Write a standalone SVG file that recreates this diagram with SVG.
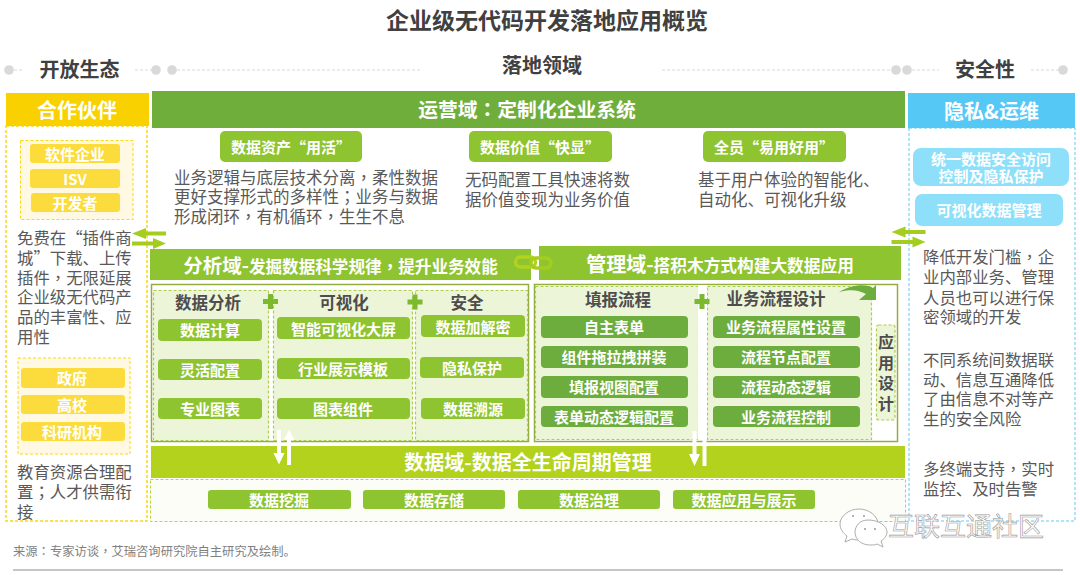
<svg xmlns="http://www.w3.org/2000/svg" width="1080" height="575" viewBox="0 0 1080 575">
<style>
text{font-family:"Noto Sans CJK SC","Noto Sans",sans-serif}
.c{text-anchor:middle}
.b{font-weight:700}
.w{fill:#fff}
.q{font-family:"Noto Sans CJK TC","Noto Sans",sans-serif}
.h{font-size:20px;font-weight:700;fill:#404040}
.s{font-size:16.5px;font-weight:700;fill:#4d4d4d;text-anchor:middle}
.body{font-size:16.4px;fill:#595959}
.body2{font-size:16.5px;fill:#595959}
.p{font-size:15px;font-weight:700;fill:#fff;text-anchor:middle}
.dot{fill:#d9d9d9}
.dl{stroke:#d9d9d9;stroke-width:1;stroke-dasharray:3 2;fill:none}
.yp{fill:#fcdc3c}
.g1{fill:#8fc431}
.g2{fill:#6dad3e}
.sub{fill:#edf5d8;stroke:#a9cf4c;stroke-width:1.2;stroke-dasharray:3 2}
.box{fill:#fff;stroke:#93ad3f;stroke-width:1.5}
.pl{fill:#7cb92f}
.ar{fill:#a4cd1f}
.ha{fill:#fff}
</style>
<defs>
<g id="swap"><path class="ar" d="M0 5.500 14 0V3.500H34V7.500H14V11Z"/><path class="ar" d="M34 15.500 21 10V13.500H0V17.500H21V21Z"/></g>
<path id="plus" class="pl" d="M-2.500-7.500H2.500V-2.500H7.500V2.500H2.500V7.500H-2.500V2.500H-7.500V-2.500H-2.500Z"/>
</defs>
<g id="title"><text class="c b" x="547" y="29" font-size="23" fill="#404040">企业级无代码开发落地应用概览</text></g>
<g id="section-headers">
<circle class="dot" cx="9" cy="70" r="4.800"/><path class="dl" d="M14 70H24M135 70H156"/><circle class="dot" cx="156" cy="70" r="4.800"/><circle class="dot" cx="172" cy="70" r="4.800"/>
<path class="dl" d="M172 70H421M662 70H896"/><circle class="dot" cx="896" cy="70" r="4.800"/><circle class="dot" cx="907" cy="70" r="4.800"/>
<path class="dl" d="M907 70H939M1031 70H1063"/><circle class="dot" cx="1063" cy="70" r="4.800"/>
<text class="h c" x="79.500" y="77">开放生态</text><text class="h c" x="542" y="73">落地领域</text><text class="h c" x="985" y="77">安全性</text>
</g>
<g id="partners">
<rect x="6" y="126" width="141" height="395" fill="#fff" stroke="#fbd90f" stroke-width="1.500" stroke-dasharray="3 2"/>
<rect x="6" y="93" width="143" height="33" fill="#f9d100"/>
<text class="c b w" x="77" y="118" font-size="20">合作伙伴</text>
<rect x="20.500" y="140.500" width="112.500" height="79" fill="#fff8e3" stroke="#fbd90f" stroke-dasharray="3 2"/>
<rect class="yp" x="30" y="144" width="90" height="19" rx="3"/><rect class="yp" x="30" y="169" width="90" height="19" rx="3"/><rect class="yp" x="31" y="193" width="89" height="19" rx="3"/>
<text class="p" x="75" y="160">软件企业</text><text class="p" x="75" y="185">ISV</text><text class="p" x="75" y="209">开发者</text>
<text class="body"><tspan x="17" y="244">免费在“插件商</tspan><tspan x="17" y="264">城”下载、上传</tspan><tspan x="17" y="284">插件<tspan class="q">，</tspan>无限延展</tspan><tspan x="17" y="303">企业级无代码产</tspan><tspan x="17" y="323">品的丰富性、应</tspan><tspan x="17" y="343">用性</tspan></text>
<rect x="18" y="358" width="112" height="96" fill="#fff8e3" stroke="#fbd90f" stroke-dasharray="3 2"/>
<rect class="yp" x="21" y="368" width="104" height="20" rx="3"/><rect class="yp" x="21" y="395" width="104" height="19" rx="3"/><rect class="yp" x="21" y="422" width="104" height="19" rx="3"/>
<text class="p" x="72" y="384">政府</text><text class="p" x="72" y="411">高校</text><text class="p" x="72" y="438">科研机构</text>
<text class="body"><tspan x="17" y="478">教育资源合理配</tspan><tspan x="17" y="498">置<tspan class="q">；</tspan>人才供需衔</tspan><tspan x="17" y="518">接</tspan></text>
</g>
<g id="operations">
<rect x="152" y="91" width="753" height="37" fill="#70ae3c"/>
<text class="c b w" x="527" y="117" font-size="19.800">运营域<tspan class="q">：</tspan>定制化企业系统</text>
<rect class="g1" x="220" y="131" width="142" height="31" rx="5"/><rect class="g1" x="469" y="131" width="143" height="31" rx="5"/><rect class="g1" x="703" y="131" width="143" height="31" rx="5"/>
<text class="p" x="291" y="153">数据资产“用活”</text><text class="p" x="540" y="153">数据价值“快显”</text><text class="p" x="774" y="153">全员“易用好用”</text>
<text class="body2"><tspan x="174" y="184">业务逻辑与底层技术分离<tspan class="q">，</tspan>柔性数据</tspan><tspan x="174" y="203">更好支撑形式的多样性<tspan class="q">；</tspan>业务与数据</tspan><tspan x="174" y="223">形成闭环<tspan class="q">，</tspan>有机循环<tspan class="q">，</tspan>生生不息</tspan></text>
<text class="body2"><tspan x="465" y="186">无码配置工具快速将数</tspan><tspan x="465" y="206">据价值变现为业务价值</tspan></text>
<text class="body2"><tspan x="698" y="186">基于用户体验的智能化、</tspan><tspan x="698" y="206">自动化、可视化升级</tspan></text>
</g>
<g id="analysis">
<rect x="150" y="249" width="381" height="31" fill="#8fc431"/>
<text class="c b w" x="340.500" y="273" font-size="16.600"><tspan font-size="19.500">分析域-</tspan>发掘数据科学规律<tspan class="q">，</tspan>提升业务效能</text>
<rect class="box" x="151.500" y="284.500" width="377" height="157"/>
<rect class="sub" x="153.500" y="290.500" width="115" height="150"/>
<rect class="sub" x="273.500" y="290.500" width="139" height="150"/>
<rect class="sub" x="415.500" y="290.500" width="112" height="150"/>
<text class="s" x="208" y="309">数据分析</text><text class="s" x="344" y="309">可视化</text><text class="s" x="467" y="309">安全</text>
<use href="#plus" x="270.500" y="301.500"/><use href="#plus" x="415" y="302"/>
<rect class="g1" x="158" y="319" width="104" height="22" rx="4"/><rect class="g1" x="158" y="359" width="104" height="21" rx="4"/><rect class="g1" x="158" y="398" width="104" height="21" rx="4"/>
<text class="p" x="210" y="336">数据计算</text><text class="p" x="210" y="376">灵活配置</text><text class="p" x="210" y="415">专业图表</text>
<rect class="g1" x="277" y="317" width="133" height="22" rx="4"/><rect class="g1" x="277" y="358" width="133" height="21" rx="4"/><rect class="g1" x="277" y="398" width="133" height="21" rx="4"/>
<text class="p" x="343.500" y="335">智能可视化大屏</text><text class="p" x="343" y="375">行业展示模板</text><text class="p" x="343" y="415">图表组件</text>
<rect class="g1" x="421" y="315" width="104" height="22" rx="4"/><rect class="g1" x="420" y="357" width="104" height="21" rx="4"/><rect class="g1" x="421" y="398" width="104" height="21" rx="4"/>
<text class="p" x="473" y="333">数据加解密</text><text class="p" x="472" y="374">隐私保护</text><text class="p" x="473" y="415">数据溯源</text>
</g>
<g id="management">
<rect x="539" y="246" width="362" height="34" fill="#8fc431"/>
<text class="c b w" x="720" y="272" font-size="16.700"><tspan font-size="20">管理域-</tspan>搭积木方式构建大数据应用</text>
<rect class="box" x="534.500" y="284.500" width="363" height="157"/>
<rect class="sub" x="535.500" y="286.500" width="163" height="153"/>
<rect class="sub" x="707.500" y="286.500" width="164" height="153"/>
<rect x="698" y="285" width="9" height="155" fill="#fff"/>
<text class="s" x="618" y="306">填报流程</text><text class="s" x="776" y="305">业务流程设计</text>
<use href="#plus" x="702" y="301.500"/>
<rect class="g2" x="541" y="316" width="147" height="22" rx="4"/><rect class="g2" x="541" y="346" width="147" height="22" rx="4"/><rect class="g2" x="541" y="376" width="147" height="22" rx="4"/><rect class="g2" x="541" y="406" width="147" height="21" rx="4"/>
<text class="p" x="614" y="333">自主表单</text><text class="p" x="614" y="363">组件拖拉拽拼装</text><text class="p" x="614" y="393">填报视图配置</text><text class="p" x="614" y="423">表单动态逻辑配置</text>
<rect class="g2" x="713" y="316" width="147" height="22" rx="4"/><rect class="g2" x="713" y="346" width="147" height="22" rx="4"/><rect class="g2" x="713" y="376" width="147" height="22" rx="4"/><rect class="g2" x="713" y="406" width="147" height="21" rx="4"/>
<text class="p" x="786" y="333">业务流程属性设置</text><text class="p" x="786" y="363">流程节点配置</text><text class="p" x="786" y="393">流程动态逻辑</text><text class="p" x="786" y="423">业务流程控制</text>
<rect class="sub" x="876.500" y="325" width="18.500" height="95" rx="2"/>
<text class="c b" font-size="16" fill="#4d4d4d"><tspan x="886" y="348">应</tspan><tspan x="886" y="369">用</tspan><tspan x="886" y="389">设</tspan><tspan x="886" y="410">计</tspan></text>
</g>
<g id="data">
<rect x="151" y="446" width="754" height="32" fill="#b2d21e"/>
<text class="c b w" x="528" y="470" font-size="20">数据域-数据全生命周期管理</text>
<rect x="150.500" y="479.500" width="755" height="42" fill="#fcfdf6" stroke="#b8d63a" stroke-dasharray="3 2"/>
<rect class="g1" x="208" y="490" width="143" height="19" rx="3"/><rect class="g1" x="363" y="490" width="142" height="19" rx="3"/><rect class="g1" x="518" y="490" width="142" height="19" rx="3"/><rect class="g1" x="673" y="490" width="142" height="19" rx="3"/>
<text class="p" x="279" y="506">数据挖掘</text><text class="p" x="434" y="506">数据存储</text><text class="p" x="589" y="506">数据治理</text><text class="p" x="744" y="506">数据应用与展示</text>
</g>
<g id="security">
<rect x="909" y="128" width="166" height="393" fill="#fff" stroke="#5ccbf5" stroke-dasharray="3 2"/>
<rect x="908" y="93" width="167" height="35" fill="#56c8f5"/>
<text class="c b w" x="991.500" y="119" font-size="20">隐私&amp;运维</text>
<rect x="913" y="148" width="156" height="38" rx="8" fill="#8ddffa"/><rect x="915" y="194" width="148" height="32" rx="7" fill="#8ddffa"/>
<text class="p"><tspan x="991" y="165">统一数据安全访问</tspan><tspan x="991" y="182">控制及隐私保护</tspan></text><text class="p" x="989" y="216">可视化数据管理</text>
<text class="body"><tspan x="923" y="263">降低开发门槛<tspan class="q">，</tspan>企</tspan><tspan x="923" y="283">业内部业务、管理</tspan><tspan x="923" y="304">人员也可以进行保</tspan><tspan x="923" y="323">密领域的开发</tspan></text>
<text class="body"><tspan x="923" y="366">不同系统间数据联</tspan><tspan x="923" y="386">动、信息互通降低</tspan><tspan x="923" y="405">了由信息不对等产</tspan><tspan x="923" y="425">生的安全风险</tspan></text>
<text class="body"><tspan x="923" y="475">多终端支持<tspan class="q">，</tspan>实时</tspan><tspan x="923" y="495">监控、及时告警</tspan></text>
</g>
<g id="connectors">
<use href="#swap" x="132" y="228"/><use href="#swap" x="891.500" y="226.500"/>
<path class="ha" d="M277 430H281V453H284.500L279 464.500 273.500 453H277Z"/>
<path class="ha" d="M287 465H291V440H294.500L289 430 283.500 440H287Z"/>
<path class="ha" d="M692.500 431H696.500V454H700L694.500 466 689 454H692.500Z"/>
<path class="ha" d="M702.500 431H706.500V466H702.500Z"/>
<path d="M839 292C850 285 866 283 873 288L876 285 876 300 859 300 866 294C859 290 850 289 839 292Z" fill="#6dad3e"/>
<g fill="none" stroke="#b2d21e" stroke-width="3.500"><rect x="515.500" y="257" width="20" height="10" rx="5"/></g>
<g fill="none" stroke="#a4cd1f" stroke-width="3.500"><rect x="531" y="258" width="20" height="10" rx="5"/></g>
</g>
<g id="footer">
<text x="13" y="556" font-size="12.300" fill="#7f7f7f">来源<tspan class="q">：</tspan>专家访谈<tspan class="q">，</tspan>艾瑞咨询研究院自主研究及绘制。</text>
<path d="M13 570H1063" stroke="#8c8c8c" stroke-width="1"/>
</g>
<g id="watermark" fill="#fff" stroke="#999" stroke-width=".8">
<path d="M859 509C849 509 840 516 840 524 840 529 843 533 847 536L845 542 852 539C855 540 858 540 860 540 870 540 878 533 878 524 878 516 869 509 859 509Z"/>
<path d="M868 520C859 520 855 527 855 532 855 540 862 545 870 545 873 545 875 545 877 544L883 547 881 541C884 539 887 536 887 532 887 526 879 520 868 520Z"/>
<g fill="#999" stroke="none"><circle cx="853" cy="516" r="1"/><circle cx="864" cy="516" r="1"/><circle cx="865" cy="529" r="1"/><circle cx="875" cy="529" r="1"/></g>
<text x="888" y="536" font-size="26" stroke-width=".6">互联互通社区</text>
</g>
</svg>
